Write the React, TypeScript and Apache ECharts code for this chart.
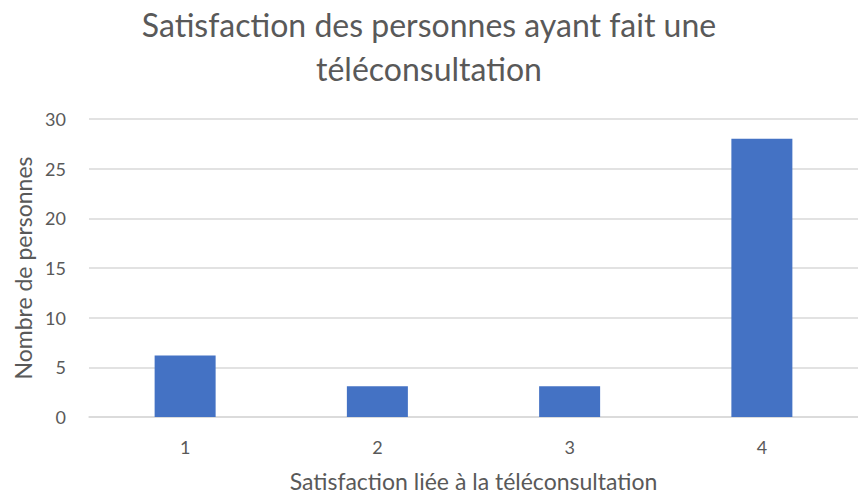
import React, { useEffect, useRef } from "react";
import * as echarts from "echarts";

const categories = ["1", "2", "3", "4"];
const values = [6.2, 3.1, 3.1, 28];
const yTicks = { min: 0, max: 30, interval: 5 };
const titleText = "Satisfaction des personnes ayant fait une\ntéléconsultation";
const xName = "Satisfaction liée à la téléconsultation";
const yName = "Nombre de personnes";

const FONT = "Lato, 'Open Sans', sans-serif";
const GREY = "#595959";

export default function App() {
  const ref = useRef<HTMLDivElement>(null);
  useEffect(() => {
    if (!ref.current) return;
    const chart = echarts.init(ref.current, null, { renderer: "svg" });
    chart.setOption({
      animation: false,
      backgroundColor: "#ffffff",
      title: {
        text: titleText,
        left: "center",
        top: -3,
        textStyle: {
          fontFamily: FONT,
          fontSize: 32,
          fontWeight: "normal",
          color: GREY,
          lineHeight: 44,
        },
      },
      grid: { left: 89, top: 119, bottom: 77, width: 776 },
      xAxis: {
        type: "category",
        data: categories,
        name: xName,
        nameLocation: "middle",
        nameGap: 52,
        nameTextStyle: { fontFamily: FONT, fontSize: 23, color: GREY },
        axisLine: { lineStyle: { color: "#d9d9d9", width: 1.5 } },
        axisTick: { show: false },
        axisLabel: { fontFamily: FONT, fontSize: 18, color: GREY, margin: 21 },
      },
      yAxis: {
        type: "value",
        min: yTicks.min,
        max: yTicks.max,
        interval: yTicks.interval,
        name: yName,
        nameLocation: "middle",
        nameGap: 50,
        nameTextStyle: { fontFamily: FONT, fontSize: 23, color: GREY },
        axisLine: { show: false },
        axisTick: { show: false },
        axisLabel: { fontFamily: FONT, fontSize: 18, color: GREY, margin: 23 },
        splitLine: { lineStyle: { color: "#d9d9d9", width: 1.5 } },
      },
      series: [
        {
          type: "bar",
          data: values,
          barWidth: 61,
          itemStyle: { color: "#4472C4" },
        },
      ],
    });
    return () => chart.dispose();
  }, []);
  return (
    <div
      ref={ref}
      style={{ position: "absolute", left: 0, top: 0, width: 858, height: 497 }}
    />
  );
}
